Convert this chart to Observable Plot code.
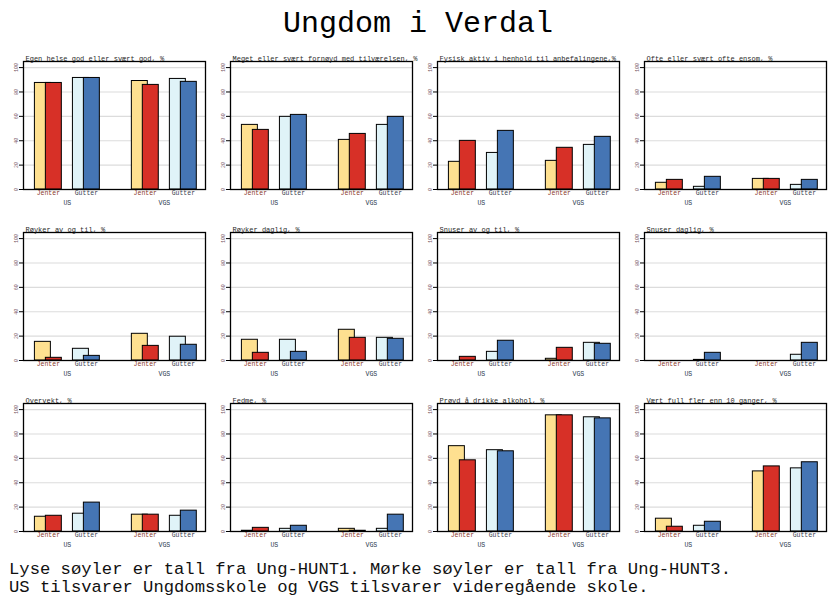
<!DOCTYPE html>
<html>
<head>
<meta charset="utf-8">
<script src="https://cdn.jsdelivr.net/npm/d3@7"></script>
<script src="https://cdn.jsdelivr.net/npm/@observablehq/plot@0.6"></script>
<style>
  body { margin: 0; background: #fff; width: 836px; height: 600px; position: relative; overflow: hidden; font-family: "Liberation Mono", monospace; }
  #title { position: absolute; left: 0; top: 0; width: 836px; text-align: center; font-size: 30px; line-height: 45px; padding-top: 2px; color: #000; }
  #chart { position: absolute; left: 0; top: 45px; }
  #caption { position: absolute; left: 9px; top: 561px; font-size: 17.2px; line-height: 18px; color: #111; white-space: pre; }
</style>
</head>
<body>
<div id="title">Ungdom i Verdal</div>
<div id="chart"></div>
<div id="caption">Lyse søyler er tall fra Ung-HUNT1. Mørke søyler er tall fra Ung-HUNT3.
US tilsvarer Ungdomsskole og VGS tilsvarer videregående skole.</div>
<script>
const panelTitles = [
  "Egen helse god eller svært god, %",
  "Meget eller svært fornøyd med tilværelsen, %",
  "Fysisk aktiv i henhold til anbefalingene,%",
  "Ofte eller svært ofte ensom, %",
  "Røyker av og til, %",
  "Røyker daglig, %",
  "Snuser av og til, %",
  "Snuser daglig, %",
  "Overvekt, %",
  "Fedme, %",
  "Prøvd å drikke alkohol, %",
  "Vært full fler enn 10 ganger, %"
];
const schools = ["US", "VGS"];
const sexes = ["Jenter", "Gutter"];
// order per panel: US Jenter, US Gutter, VGS Jenter, VGS Gutter
const hunt1 = [
  [87.4, 91.5, 89.0, 90.7],
  [53.0, 59.6, 40.7, 53.0],
  [22.7, 30.0, 23.5, 36.6],
  [5.5, 2.2, 8.7, 3.8],
  [15.3, 9.6, 21.9, 19.5],
  [17.0, 17.0, 25.2, 18.6],
  [0, 7.1, 1.4, 14.5],
  [0, 0.5, 0, 4.7],
  [12.1, 14.6, 13.8, 12.9],
  [0.6, 2.2, 2.2, 2.2],
  [70.0, 66.7, 95.3, 93.7],
  [10.5, 4.7, 49.3, 51.8]
];
const hunt3 = [
  [87.4, 91.5, 85.8, 88.3],
  [48.9, 61.2, 45.6, 59.6],
  [39.9, 48.1, 34.2, 43.2],
  [7.9, 10.4, 8.7, 7.9],
  [2.2, 3.8, 12.0, 12.9],
  [6.3, 7.1, 18.6, 17.8],
  [3.0, 16.2, 10.4, 13.7],
  [0, 6.3, 0, 14.5],
  [12.9, 23.7, 13.8, 17.1],
  [3.0, 4.7, 0.6, 13.8],
  [58.4, 65.8, 95.3, 92.8],
  [3.9, 8.0, 53.4, 56.8]
];
const yTicks = [0, 20, 40, 60, 80, 100];
const gridTicks = [20, 40, 60, 80, 100];

const schoolGap = 2.55;
const rows = [];
const panels = [];
const schoolLabels = [];
panelTitles.forEach((t, i) => {
  const col = i % 4, row = Math.floor(i / 4);
  panels.push({t, col, row});
  schools.forEach((s, si) => {
    schoolLabels.push({school: s, col, row, pos: si * schoolGap + 0.5});
    sexes.forEach((x, xi) => {
      const k = si * 2 + xi;
      rows.push({col, row, school: s, sex: x, pos: si * schoolGap + xi, h1: hunt1[i][k], h3: hunt3[i][k]});
    });
  });
});

const chart = Plot.plot({
  width: 836,
  height: 516,
  marginLeft: 23,
  marginRight: 9,
  marginTop: 15,
  marginBottom: 30,
  style: {fontFamily: '"Liberation Mono", monospace', background: "white", overflow: "visible"},
  fx: {domain: [0, 1, 2, 3], paddingInner: 0.12, paddingOuter: 0, axis: null},
  fy: {domain: [0, 1, 2], paddingInner: 0.254, paddingOuter: 0, axis: null},
  x: {domain: [-0.654, 4.133], axis: null},
  y: {domain: [0, 105], axis: null},
  color: {domain: ["Jenter1", "Gutter1", "Jenter3", "Gutter3"], range: ["#fee090", "#e0f3f8", "#d73027", "#4575b4"]},
  marks: [
    Plot.ruleY(gridTicks, {stroke: "#dcdcdc", strokeWidth: 1.2}),
    Plot.rect(rows, {fx: "col", fy: "row", x1: d => d.pos - 0.354, x2: d => d.pos + 0.066, y1: 0, y2: "h1", fill: d => d.sex + "1", stroke: "black", strokeWidth: 1}),
    Plot.rect(rows, {fx: "col", fy: "row", x1: d => d.pos - 0.066, x2: d => d.pos + 0.354, y1: 0, y2: "h3", fill: d => d.sex + "3", stroke: "black", strokeWidth: 1}),
    Plot.frame({stroke: "black", strokeWidth: 1.3}),
    Plot.axisY({ticks: yTicks, tickRotate: -90, tickSize: 4, tickPadding: 1.5, fontSize: 5, fill: "#7a5a6a", stroke: "black", facetAnchor: null, label: null}),
    Plot.text(rows, {fx: "col", fy: "row", x: "pos", text: "sex", frameAnchor: "bottom", dy: 5.5, fontSize: 6.5, fill: d => d.sex === "Jenter" ? "#8b3a2a" : "#3a4250"}),
    Plot.text(schoolLabels, {fx: "col", fy: "row", x: "pos", text: "school", frameAnchor: "bottom", dy: 15.5, fontSize: 6.5, fill: "#2c3a50"}),
    Plot.text(panels, {fx: "col", fy: "row", text: "t", frameAnchor: "top-left", dx: 2, dy: -5, textAnchor: "start", fontSize: 7, fill: "#2a2a2a"})
  ]
});
document.getElementById("chart").appendChild(chart);
</script>
</body>
</html>
